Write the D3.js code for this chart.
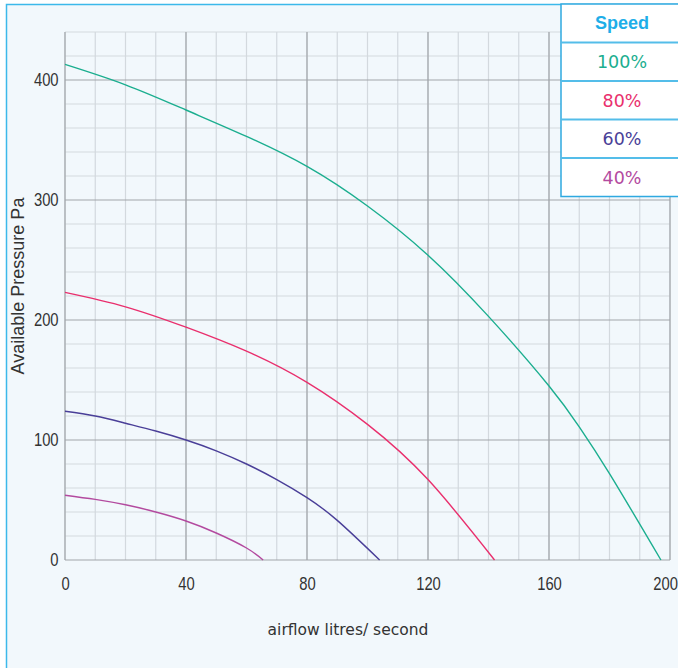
<!DOCTYPE html>
<html>
<head>
<meta charset="utf-8">
<script src="https://cdn.jsdelivr.net/npm/d3@7"></script>
<style>
  html, body { margin: 0; padding: 0; background: #ffffff; }
  svg { display: block; }
</style>
</head>
<body>
<div id="chart"></div>
<script>
// fan curves: airflow (l/s) vs available pressure (Pa)
const speeds = ['100%', '80%', '60%', '40%'];
const speedColors = ['#1bae8f', '#e92f6d', '#4a3f98', '#b34a9f'];

const flow100 = [0, 20, 40, 60, 80, 100, 120, 140, 160, 170, 180, 197];
const pres100 = [413, 396, 375, 353, 328, 295, 254, 203, 145, 111, 72, 0];

const flow80 = [0, 20, 40, 60, 80, 100, 120, 142];
const pres80 = [223, 211, 194, 174, 148, 113, 67, 0];

const flow60 = [0, 10, 20, 30, 40, 50, 60, 70, 80, 90, 104];
const pres60 = [124, 120, 114, 107.5, 100, 91, 80, 67, 52, 33, 0];

const flow40 = [0, 10, 20, 30, 40, 50, 60, 65.5];
const pres40 = [54, 50.5, 46, 40, 32.5, 22.5, 10, 0];

const xTicks = [0, 40, 80, 120, 160, 200];
const yTicks = [0, 100, 200, 300, 400];

const W = 678, H = 668;

const svg = d3.select('#chart').append('svg')
    .attr('width', W)
    .attr('height', H);

// panel background + frame
svg.append('rect')
    .attr('x', 6.5).attr('y', 4.5)
    .attr('width', W).attr('height', H)
    .attr('fill', '#f2f8fc')
    .attr('stroke', '#3cb9ea')
    .attr('stroke-width', 1.5);

const x = d3.scaleLinear().domain([0, 200]).range([65, 670]);
const y = d3.scaleLinear().domain([0, 440]).range([560, 32]);

const grid = svg.append('g');

// minor grid
grid.selectAll('.vminor')
    .data(d3.range(0, 201, 10))
    .join('line')
    .attr('x1', d => x(d)).attr('x2', d => x(d))
    .attr('y1', y(440)).attr('y2', y(0))
    .attr('stroke', '#d3d9de')
    .attr('stroke-width', 1.2);

grid.selectAll('.hminor')
    .data(d3.range(0, 441, 20))
    .join('line')
    .attr('x1', x(0)).attr('x2', x(200))
    .attr('y1', d => y(d)).attr('y2', d => y(d))
    .attr('stroke', d => d % 100 === 0 ? '#a2a6aa' : '#d3d9de')
    .attr('stroke-width', 1.2);

// major verticals on top
grid.selectAll('.vmajor')
    .data(xTicks)
    .join('line')
    .attr('x1', d => x(d)).attr('x2', d => x(d))
    .attr('y1', y(440)).attr('y2', y(0))
    .attr('stroke', '#a2a6aa')
    .attr('stroke-width', 1.2);

// axes (labels only), condensed digits
const tickFont = '"Liberation Sans", Arial, sans-serif';

const xAxis = d3.axisBottom(x).tickValues(xTicks).tickSize(0).tickPadding(17);
svg.append('g')
    .attr('transform', `translate(0, ${y(0)})`)
    .call(xAxis)
    .call(g => g.select('.domain').remove())
    .selectAll('text')
    .attr('font-family', tickFont)
    .attr('font-size', 18.5)
    .attr('fill', '#333333')
    .attr('dx', d => d === 200 ? -6 : 0)
    .attr('transform', 'scale(0.8,1)');

const yAxis = d3.axisLeft(y).tickValues(yTicks).tickSize(0).tickPadding(8);
svg.append('g')
    .attr('transform', `translate(${x(0)}, 0)`)
    .call(yAxis)
    .call(g => g.select('.domain').remove())
    .selectAll('text')
    .attr('font-family', tickFont)
    .attr('font-size', 18.5)
    .attr('fill', '#333333')
    .attr('transform', 'scale(0.8,1)');

// curves
const series = [
    { flow: flow100, pres: pres100 },
    { flow: flow80, pres: pres80 },
    { flow: flow60, pres: pres60 },
    { flow: flow40, pres: pres40 }
];

const line = d3.line()
    .x(d => x(d[0]))
    .y(d => y(d[1]))
    .curve(d3.curveNatural);

svg.append('g').selectAll('path')
    .data(series)
    .join('path')
    .attr('d', s => line(s.flow.map((f, i) => [f, s.pres[i]])))
    .attr('fill', 'none')
    .attr('stroke', (s, i) => speedColors[i])
    .attr('stroke-width', 1.4);

// axis titles
svg.append('text')
    .attr('x', 348)
    .attr('y', 635)
    .attr('text-anchor', 'middle')
    .attr('font-family', '"DejaVu Sans", sans-serif')
    .attr('font-size', 15.5)
    .attr('fill', '#333333')
    .text('airflow litres/ second');

svg.append('text')
    .attr('transform', 'translate(24, 286) rotate(-90)')
    .attr('text-anchor', 'middle')
    .attr('font-family', '"Liberation Sans", Arial, sans-serif')
    .attr('font-size', 18)
    .attr('fill', '#333333')
    .text('Available Pressure Pa');

// legend table
const lgX = 561, lgY = 4, rowH = 38.5;
const legend = svg.append('g');

legend.append('rect')
    .attr('x', lgX).attr('y', lgY)
    .attr('width', W - lgX + 2).attr('height', rowH * 5)
    .attr('fill', '#ffffff')
    .attr('stroke', '#2fa9e0')
    .attr('stroke-width', 1.5);

legend.selectAll('.sep')
    .data(d3.range(1, 5))
    .join('line')
    .attr('x1', lgX).attr('x2', W)
    .attr('y1', d => lgY + d * rowH).attr('y2', d => lgY + d * rowH)
    .attr('stroke', '#54bde9')
    .attr('stroke-width', 1.8);

legend.append('text')
    .attr('x', 622)
    .attr('y', lgY + rowH / 2 + 6)
    .attr('text-anchor', 'middle')
    .attr('font-family', '"Liberation Sans", Arial, sans-serif')
    .attr('font-weight', 'bold')
    .attr('font-size', 18)
    .attr('fill', '#1eaee8')
    .text('Speed');

legend.selectAll('.lab')
    .data(speeds)
    .join('text')
    .attr('x', 622)
    .attr('y', (d, i) => lgY + (i + 1) * rowH + rowH / 2 + 6.5)
    .attr('text-anchor', 'middle')
    .attr('font-family', '"DejaVu Sans", sans-serif')
    .attr('font-size', 17.5)
    .attr('fill', (d, i) => speedColors[i])
    .text(d => d);
</script>
</body>
</html>
